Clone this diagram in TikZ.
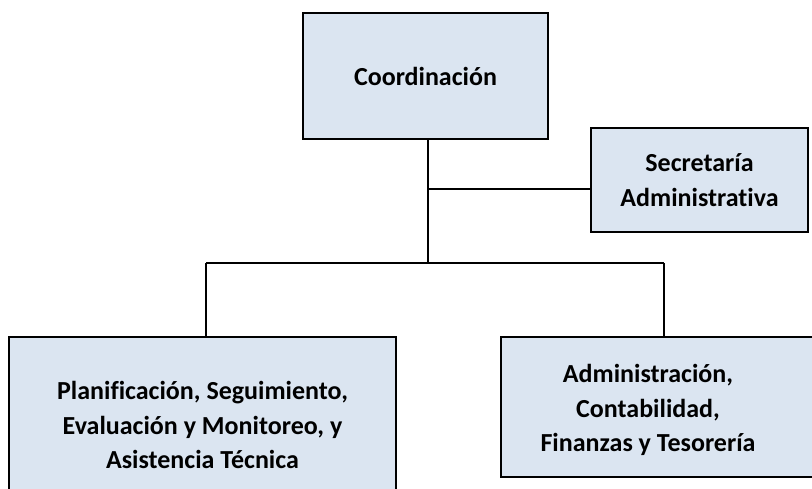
\documentclass[tikz,border=0pt]{standalone}
\usepackage{fontspec}
\setmainfont{Carlito}[Ligatures=NoCommon]
\definecolor{unitfill}{HTML}{DBE5F1}
\newcommand{\UnitFont}{\bfseries\fontsize{26}{34.5}\selectfont}
\tikzset{
  unit/.style={draw=black, line width=1.5pt, fill=unitfill, inner sep=0pt,
    align=center, font=\UnitFont},
  unittext/.style={inner sep=0pt, align=center, font=\UnitFont},
  link/.style={line width=1.5pt}
}

\begin{document}
\begin{tikzpicture}[x=1pt,y=-1pt]
  \useasboundingbox (0,0) rectangle (812,488);
  \clip (0,0) rectangle (812,488);

  \node[unit, minimum width=245pt, minimum height=126pt] (coord) at (425.5,76)
      {Coordinación};
  \node[unit, minimum width=217pt, minimum height=104pt] (secre) at (699.5,180)
      {Secretaría\\Administrativa};
  \node[unit, minimum width=387pt, minimum height=176pt] (plan) at (202.5,425)
      {Planificación, Seguimiento,\\Evaluación y Monitoreo, y\\Asistencia Técnica};
  \node[unit, minimum width=314pt, minimum height=140pt] (admin) at (658,407) {};
  \node[unittext] (admintxt) at ([xshift=-10pt,yshift=-3pt]admin.center)
      {Administración,\\Contabilidad,\\Finanzas y Tesorería};

  % bus lines
  \coordinate (busM) at (428,263);
  \coordinate (busL) at (206,263);
  \coordinate (busR) at (664,263);
  \coordinate (tap) at (428,189);

  \draw[link] (coord.south -| busM) -- (busM);
  \draw[link] (busL) -- (busR);
  \draw[link] (busL) -- (busL |- plan.north);
  \draw[link] (busR) -- (busR |- admin.north);
  \draw[link] (tap) -- (tap -| secre.west);
\end{tikzpicture}
\end{document}
